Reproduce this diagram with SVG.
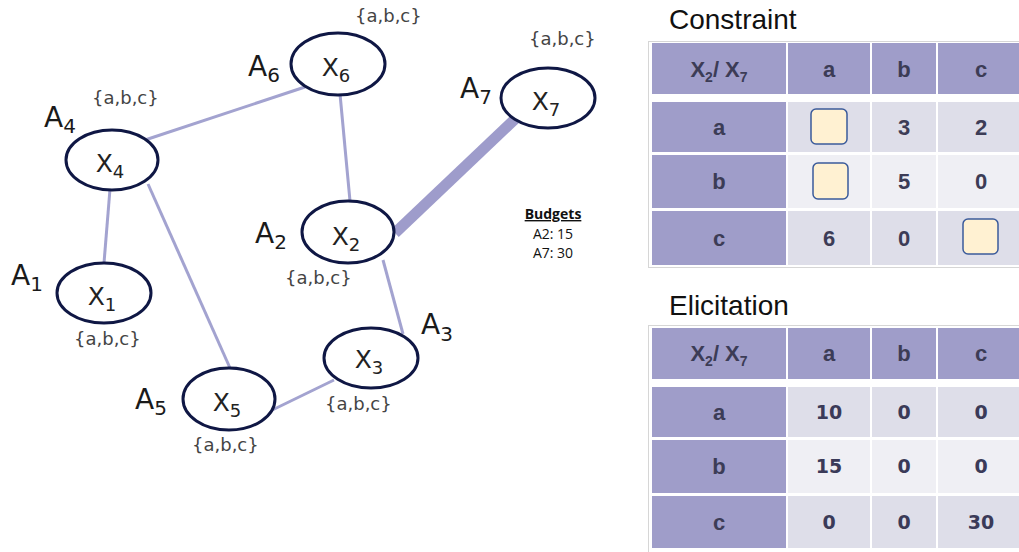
<svg xmlns="http://www.w3.org/2000/svg" width="1019" height="552" viewBox="0 0 1019 552">
<style>
.node ellipse{fill:#fff;stroke:#0f1744;stroke-width:3}
.edge{stroke:#a3a3d0;stroke-width:3;fill:none}
.lab{font-family:"DejaVu Sans",Verdana,sans-serif;font-size:28px;fill:#1a1a1a}
.ls{font-size:20px}
.xl{font-family:"DejaVu Sans",Verdana,sans-serif;font-size:25px;fill:#222;text-anchor:middle}
.sub{font-size:18px}
.dom{font-family:"DejaVu Sans",Verdana,sans-serif;font-size:18px;fill:#444}
.title{font-family:"Liberation Sans",Arial,sans-serif;font-size:28px;fill:#111}
.hd{fill:#9f9dc9}
.c1{fill:#dedee9}
.c2{fill:#efeff4}
.th{font-family:"Liberation Sans",Arial,sans-serif;font-size:22px;font-weight:bold;fill:#3c3c56;text-anchor:middle}
.tv{font-family:"DejaVu Sans",Verdana,sans-serif;font-size:19px;font-weight:bold;fill:#3a3a58;text-anchor:middle}
.yb{fill:#fff1d2;stroke:#3b5b9b;stroke-width:1.5}
.bud{font-family:"Open Sans",Lato,sans-serif;font-size:14px;fill:#111;text-anchor:middle}
</style>
<rect width="1019" height="552" fill="#fff"/>
<g id="connectors">
<line class="edge" x1="145" y1="140" x2="305" y2="87"/>
<line class="edge" x1="340" y1="94" x2="350" y2="201"/>
<line class="edge" x1="110" y1="189" x2="104" y2="263"/>
<line class="edge" x1="148" y1="184" x2="230" y2="368"/>
<line class="edge" x1="383" y1="260" x2="403" y2="334"/>
<line class="edge" x1="262" y1="415" x2="334" y2="380"/>
<line x1="395" y1="233" x2="515" y2="119" stroke="#9e9ccb" stroke-width="11"/>
</g>
<g id="node-x6" class="node">
<ellipse cx="338" cy="64" rx="47" ry="31"/>
<text class="xl" x="336" y="76">X<tspan class="sub" dy="6">6</tspan></text>
<text class="lab" x="248" y="76">A<tspan class="ls" dy="6">6</tspan></text>
<text class="dom" x="355" y="22">{a,b,c}</text>
</g>
<g id="node-x7" class="node">
<ellipse cx="548" cy="98" rx="47" ry="30"/>
<text class="xl" x="546" y="110">X<tspan class="sub" dy="6">7</tspan></text>
<text class="lab" x="460" y="98">A<tspan class="ls" dy="6">7</tspan></text>
<text class="dom" x="529" y="45">{a,b,c}</text>
</g>
<g id="node-x4" class="node">
<ellipse cx="112" cy="160" rx="46" ry="30"/>
<text class="xl" x="110" y="172">X<tspan class="sub" dy="6">4</tspan></text>
<text class="lab" x="44" y="127">A<tspan class="ls" dy="6">4</tspan></text>
<text class="dom" x="92" y="104">{a,b,c}</text>
</g>
<g id="node-x2" class="node">
<ellipse cx="348" cy="232" rx="46" ry="31"/>
<text class="xl" x="346" y="245">X<tspan class="sub" dy="6">2</tspan></text>
<text class="lab" x="255" y="243">A<tspan class="ls" dy="6">2</tspan></text>
<text class="dom" x="285" y="284">{a,b,c}</text>
</g>
<g id="node-x1" class="node">
<ellipse cx="104" cy="293" rx="47" ry="30"/>
<text class="xl" x="102" y="305">X<tspan class="sub" dy="6">1</tspan></text>
<text class="lab" x="11" y="285">A<tspan class="ls" dy="6">1</tspan></text>
<text class="dom" x="74" y="345">{a,b,c}</text>
</g>
<g id="node-x3" class="node">
<ellipse cx="371" cy="358" rx="47" ry="30"/>
<text class="xl" x="369" y="368">X<tspan class="sub" dy="6">3</tspan></text>
<text class="lab" x="421" y="334">A<tspan class="ls" dy="7">3</tspan></text>
<text class="dom" x="325" y="410">{a,b,c}</text>
</g>
<g id="node-x5" class="node">
<ellipse cx="229" cy="399" rx="46" ry="31"/>
<text class="xl" x="227" y="411">X<tspan class="sub" dy="6">5</tspan></text>
<text class="lab" x="135" y="409">A<tspan class="ls" dy="6">5</tspan></text>
<text class="dom" x="192" y="451">{a,b,c}</text>
</g>
<g id="budgets">
<text class="bud" x="553" y="219" font-weight="bold" text-decoration="underline" font-size="15">Budgets</text>
<text class="bud" x="553" y="239">A2: 15</text>
<text class="bud" x="553" y="258">A7: 30</text>
</g>
<g id="constraint-table">
<text class="title" x="669" y="29">Constraint</text>
<rect x="648.5" y="41.5" width="380" height="226" fill="#fff" stroke="#d6d6d6"/>
<rect class="hd" x="652" y="43" width="134" height="51"/>
<rect class="hd" x="788" y="43" width="82" height="51"/>
<rect class="hd" x="872" y="43" width="64" height="51"/>
<rect class="hd" x="938" y="43" width="90" height="51"/>
<rect class="hd" x="652" y="102" width="134" height="50"/>
<rect class="c1" x="788" y="102" width="82" height="50"/>
<rect class="c1" x="872" y="102" width="64" height="50"/>
<rect class="c1" x="938" y="102" width="90" height="50"/>
<rect class="hd" x="652" y="155" width="134" height="53"/>
<rect class="c2" x="788" y="155" width="82" height="53"/>
<rect class="c2" x="872" y="155" width="64" height="53"/>
<rect class="c2" x="938" y="155" width="90" height="53"/>
<rect class="hd" x="652" y="211" width="134" height="54"/>
<rect class="c1" x="788" y="211" width="82" height="54"/>
<rect class="c1" x="872" y="211" width="64" height="54"/>
<rect class="c1" x="938" y="211" width="90" height="54"/>
<text class="th" x="719" y="77">X<tspan font-size="14" dy="5">2</tspan><tspan dy="-5">/ X</tspan><tspan font-size="14" dy="5">7</tspan></text>
<text class="th" x="829" y="77">a</text>
<text class="th" x="904" y="77">b</text>
<text class="th" x="981" y="77">c</text>
<text class="th" x="719" y="135">a</text>
<text class="th" x="719" y="189">b</text>
<text class="th" x="719" y="246">c</text>
<rect class="yb" x="811" y="109" width="36" height="35" rx="5"/>
<text class="th" x="904" y="135">3</text>
<text class="th" x="981" y="135">2</text>
<rect class="yb" x="813" y="163" width="35" height="36" rx="5"/>
<text class="th" x="904" y="189">5</text>
<text class="th" x="981" y="189">0</text>
<text class="th" x="829" y="246">6</text>
<text class="th" x="904" y="246">0</text>
<rect class="yb" x="963" y="219" width="35" height="35" rx="5"/>
</g>
<g id="elicitation-table">
<text class="title" x="669" y="315">Elicitation</text>
<rect x="648.5" y="325.5" width="380" height="230" fill="#fff" stroke="#d6d6d6"/>
<rect class="hd" x="652" y="328" width="134" height="51"/>
<rect class="hd" x="788" y="328" width="82" height="51"/>
<rect class="hd" x="872" y="328" width="64" height="51"/>
<rect class="hd" x="938" y="328" width="90" height="51"/>
<rect class="hd" x="652" y="387" width="134" height="50"/>
<rect class="c1" x="788" y="387" width="82" height="50"/>
<rect class="c1" x="872" y="387" width="64" height="50"/>
<rect class="c1" x="938" y="387" width="90" height="50"/>
<rect class="hd" x="652" y="440" width="134" height="53"/>
<rect class="c2" x="788" y="440" width="82" height="53"/>
<rect class="c2" x="872" y="440" width="64" height="53"/>
<rect class="c2" x="938" y="440" width="90" height="53"/>
<rect class="hd" x="652" y="496" width="134" height="52"/>
<rect class="c1" x="788" y="496" width="82" height="52"/>
<rect class="c1" x="872" y="496" width="64" height="52"/>
<rect class="c1" x="938" y="496" width="90" height="52"/>
<text class="th" x="719" y="361">X<tspan font-size="14" dy="5">2</tspan><tspan dy="-5">/ X</tspan><tspan font-size="14" dy="5">7</tspan></text>
<text class="th" x="829" y="361">a</text>
<text class="th" x="904" y="361">b</text>
<text class="th" x="981" y="361">c</text>
<text class="th" x="719" y="420">a</text>
<text class="th" x="719" y="474">b</text>
<text class="th" x="719" y="530">c</text>
<text class="tv" x="829" y="419">10</text>
<text class="tv" x="904" y="419">0</text>
<text class="tv" x="981" y="419">0</text>
<text class="tv" x="829" y="473">15</text>
<text class="tv" x="904" y="473">0</text>
<text class="tv" x="981" y="473">0</text>
<text class="tv" x="829" y="529">0</text>
<text class="tv" x="904" y="529">0</text>
<text class="tv" x="981" y="529">30</text>
</g>
</svg>
